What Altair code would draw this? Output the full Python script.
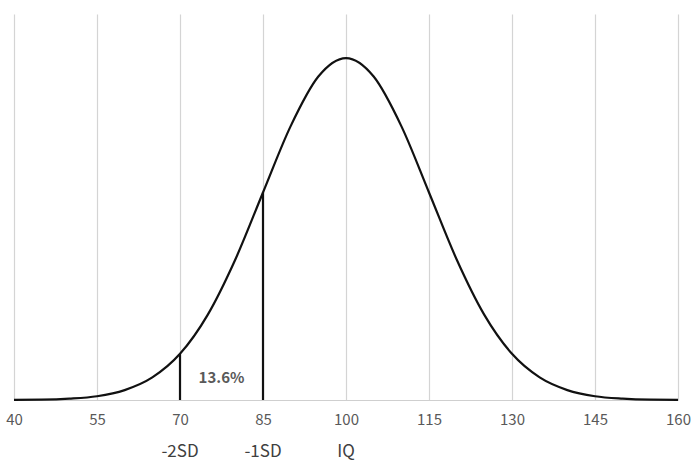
import altair as alt
import pandas as pd

# IQ scale and curve height (relative, peak = 100)
iq = [40, 45, 50, 55, 60, 65, 70, 75, 80, 85, 90, 95, 100,
      105, 110, 115, 120, 125, 130, 135, 140, 145, 150, 155, 160]
height = [0.03, 0.1, 0.4, 1.1, 2.9, 6.6, 13.5, 24.9, 41.1, 60.7, 80.1, 94.6, 100,
          94.6, 80.1, 60.7, 41.1, 24.9, 13.5, 6.6, 2.9, 1.1, 0.4, 0.1, 0.03]

tick_values = [40, 55, 70, 85, 100, 115, 130, 145, 160]

# marker lines
marker_x = [70, 85]
marker_top = [13.5, 60.7]

# labels under the axis
sd_x = [70, 85, 100]
sd_text = ["-2SD", "-1SD", "IQ"]

# area annotation
ann_x = [77.5]
ann_y = [6.3]
ann_text = ["13.6%"]

FONT = "Noto Sans CJK JP"
xs = alt.Scale(domain=[40, 160], nice=False, zero=False)
ys = alt.Scale(domain=[0, 112.9], nice=False, zero=True)

curve_df = pd.DataFrame({"iq": iq, "h": height})
marker_df = pd.DataFrame({"x": marker_x, "top": marker_top, "zero": [0, 0]})
sd_df = pd.DataFrame({"x": sd_x, "t": sd_text})
ann_df = pd.DataFrame({"x": ann_x, "y": ann_y, "t": ann_text})

curve = alt.Chart(curve_df).mark_line(
    color="#111111", strokeWidth=2.2, interpolate="monotone"
).encode(
    x=alt.X("iq:Q", scale=xs, axis=alt.Axis(
        values=tick_values, title=None, grid=True, gridColor="#d4d4d4",
        gridWidth=1.2, ticks=False, domain=True, domainColor="#cfcfcf",
        domainWidth=1.2, labelColor="#595959", labelFont=FONT,
        labelFontSize=15, labelPadding=12, labelFlush=False)),
    y=alt.Y("h:Q", scale=ys, axis=None),
)

rules = alt.Chart(marker_df).mark_rule(color="#111111", strokeWidth=2.2).encode(
    x=alt.X("x:Q", scale=xs),
    y=alt.Y("zero:Q", scale=ys),
    y2="top:Q",
)

sd_labels = alt.Chart(sd_df).mark_text(
    font=FONT, fontSize=17, color="#404040", baseline="middle", align="center"
).encode(
    x=alt.X("x:Q", scale=xs),
    y=alt.value(438),
    text="t:N",
)

ann = alt.Chart(ann_df).mark_text(
    font=FONT, fontSize=15, fontWeight="bold", color="#595959",
    baseline="middle", align="center"
).encode(
    x=alt.X("x:Q", scale=xs),
    y=alt.Y("y:Q", scale=ys),
    text="t:N",
)

chart = alt.layer(curve, rules, sd_labels, ann).properties(
    width=664, height=386,
    padding={"left": 14, "top": 14, "right": 15, "bottom": 61},
    autosize=alt.AutoSizeParams(type="none"),
    background="white",
).configure_view(stroke=None)

chart.save("out.html", embed_options={"renderer": "svg", "actions": False})
